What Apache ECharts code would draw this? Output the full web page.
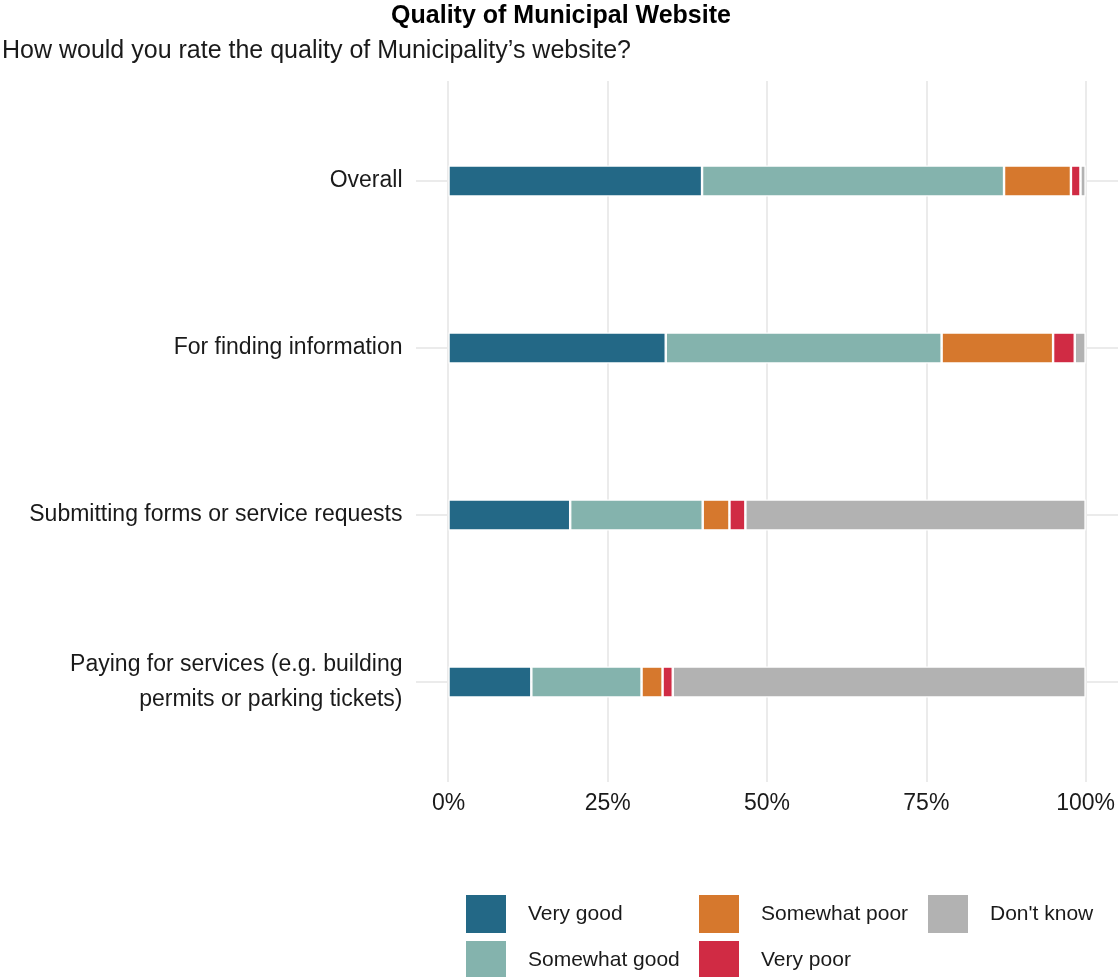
<!DOCTYPE html>
<html>
<head>
<meta charset="utf-8">
<script src="https://cdn.jsdelivr.net/npm/echarts@6/dist/echarts.min.js"></script>
<style>
html,body{margin:0;padding:0;background:#fff;}
#chart{width:1118px;height:977px;}
</style>
</head>
<body>
<div id="chart"></div>
<script>
const categories = [
  "Overall",
  "For finding information",
  "Submitting forms or service requests",
  "Paying for services (e.g. building\npermits or parking tickets)"
];
const seriesNames = ["Very good", "Somewhat good", "Somewhat poor", "Very poor", "Don't know"];
const veryGood     = [39.8, 34.1, 19.1, 13.0];
const somewhatGood = [47.4, 43.3, 20.8, 17.3];
const somewhatPoor = [10.5, 17.5, 4.2, 3.3];
const veryPoor     = [1.5, 3.4, 2.5, 1.6];
const dontKnow     = [0.8, 1.7, 53.4, 64.8];
const xTicks = [0, 25, 50, 75, 100];

const colors = ["#236886", "#84b3ad", "#d6782d", "#d02b44", "#b2b2b2"];
const values = [veryGood, somewhatGood, somewhatPoor, veryPoor, dontKnow];
const FONT = "Liberation Sans, Arial, sans-serif";

const chart = echarts.init(document.getElementById('chart'), null, {renderer: 'canvas'});

const gridLineStyle = {color: '#ebebeb', width: 2, type: 'solid'};
const bgMarks = [];
xTicks.forEach(v => bgMarks.push({xAxis: v}));
categories.forEach((c, i) => bgMarks.push({yAxis: i + 1}));

const barSeries = seriesNames.map((name, i) => ({
  name: name,
  type: 'bar',
  stack: 'total',
  xAxisIndex: 1,
  yAxisIndex: 1,
  barWidth: 31,
  z: 10,
  itemStyle: {color: colors[i], borderColor: '#ffffff', borderWidth: 1.2},
  emphasis: {disabled: true},
  data: values[i]
}));

const legendCommon = {
  orient: 'vertical',
  top: 895,
  height: 90,
  padding: 0,
  itemWidth: 40,
  itemHeight: 38,
  itemGap: 8,
  icon: 'rect',
  selectedMode: false,
  itemStyle: {borderWidth: 0},
  textStyle: {fontFamily: FONT, fontSize: 21, color: '#1a1a1a', padding: [0, 0, 0, 17]}
};

chart.setOption({
  backgroundColor: '#ffffff',
  animation: false,
  color: colors,
  title: [
    {text: 'Quality of Municipal Website', left: 561, top: 4, textAlign: 'center', padding: 0,
     textStyle: {fontFamily: FONT, fontSize: 25, fontWeight: 'bold', color: '#000'}},
    {text: 'How would you rate the quality of Municipality\u2019s website?', left: 2, top: 39, padding: 0,
     textStyle: {fontFamily: FONT, fontSize: 25, fontWeight: 'normal', color: '#1a1a1a'}}
  ],
  legend: [
    Object.assign({}, legendCommon, {left: 466, data: ['Very good', 'Somewhat good']}),
    Object.assign({}, legendCommon, {left: 699, data: ['Somewhat poor', 'Very poor']}),
    Object.assign({}, legendCommon, {left: 928, data: ["Don't know"]})
  ],
  grid: [
    {left: 416, right: -3, top: 81, bottom: 195},
    {left: 448.5, right: 29.5, top: 97.5, bottom: 211.5}
  ],
  xAxis: [
    {gridIndex: 0, type: 'value', min: -5, max: 105, show: false},
    {gridIndex: 1, type: 'value', min: 0, max: 100, interval: 25,
     axisLine: {show: false}, axisTick: {show: false}, splitLine: {show: false},
     axisLabel: {formatter: v => v + '%', margin: 27, fontFamily: FONT, fontSize: 23, color: '#1a1a1a'}}
  ],
  yAxis: [
    {gridIndex: 0, type: 'value', min: 0.4, max: 4.6, inverse: true, show: false},
    {gridIndex: 1, type: 'category', data: categories, inverse: true,
     axisLine: {show: false}, axisTick: {show: false}, splitLine: {show: false},
     axisLabel: {margin: 46, fontFamily: FONT, fontSize: 23, color: '#1a1a1a', lineHeight: 35, align: 'right'}}
  ],
  series: [
    {
      type: 'line',
      xAxisIndex: 0,
      yAxisIndex: 0,
      data: [],
      z: 0,
      silent: true,
      markLine: {
        z: 0,
        silent: true,
        symbol: ['none', 'none'],
        label: {show: false},
        lineStyle: gridLineStyle,
        emphasis: {disabled: true},
        animation: false,
        data: bgMarks
      }
    }
  ].concat(barSeries)
});
</script>
</body>
</html>
